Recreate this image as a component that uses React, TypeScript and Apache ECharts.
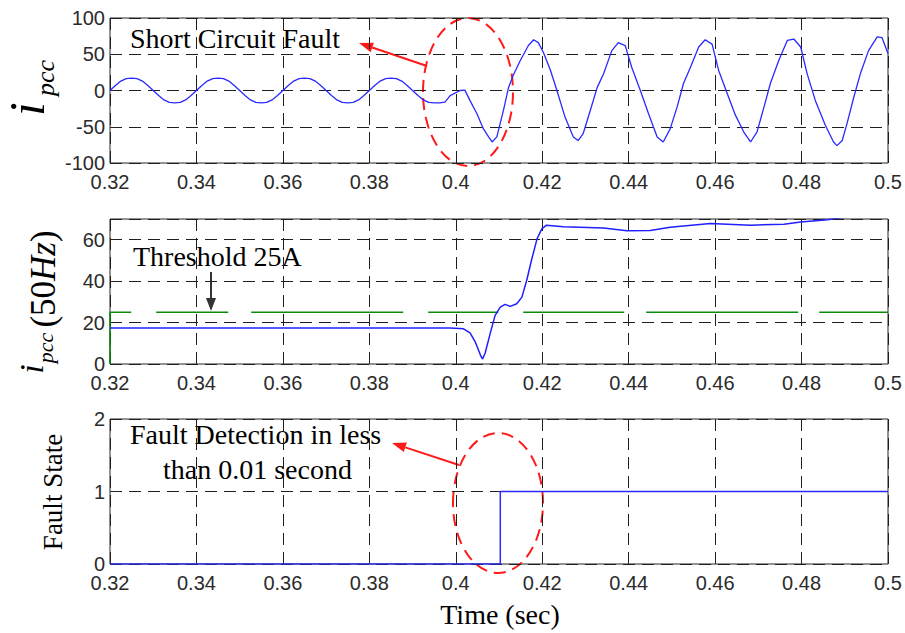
import React, { useEffect, useRef } from 'react';
import * as echarts from 'echarts';

// ---------- data ----------
const xTickMin = 0.32;
const xTickMax = 0.5;
const xTickStep = 0.02;

// panel 1: i_pcc (A)
const ipccPreFault: [number, number][] = [
  [0.32, 0], [0.32125, 7], [0.3225, 13], [0.32375, 16.5], [0.325, 17], [0.32625, 16.5], [0.3275, 13], [0.32875, 7],
  [0.33, 0], [0.33125, -7], [0.3325, -13], [0.33375, -16.5], [0.335, -17], [0.33625, -16.5], [0.3375, -13], [0.33875, -7],
  [0.34, 0], [0.34125, 7], [0.3425, 13], [0.34375, 16.5], [0.345, 17], [0.34625, 16.5], [0.3475, 13], [0.34875, 7],
  [0.35, 0], [0.35125, -7], [0.3525, -13], [0.35375, -16.5], [0.355, -17], [0.35625, -16.5], [0.3575, -13], [0.35875, -7],
  [0.36, 0], [0.36125, 7], [0.3625, 13], [0.36375, 16.5], [0.365, 17], [0.36625, 16.5], [0.3675, 13], [0.36875, 7],
  [0.37, 0], [0.37125, -7], [0.3725, -13], [0.37375, -16.5], [0.375, -17], [0.37625, -16.5], [0.3775, -13], [0.37875, -7],
  [0.38, 0], [0.38125, 7], [0.3825, 13], [0.38375, 16.5], [0.385, 17], [0.38625, 16.5], [0.3875, 13], [0.38875, 7],
  [0.39, 0], [0.39125, -7], [0.3925, -13], [0.39375, -16.5], [0.395, -17], [0.39625, -17], [0.3975, -16], [0.3987, -7],
];
const ipccPostFault: [number, number][] = [
  [0.401, 0], [0.4021, 0.5], [0.4033, -14], [0.4049, -32], [0.4064, -53], [0.4076, -64], [0.4084, -71], [0.4095, -64],
  [0.411, -28], [0.4122, 4], [0.4133, 21], [0.4149, 41], [0.4168, 62], [0.418, 70], [0.4191, 66], [0.4203, 52],
  [0.4219, 28], [0.4234, 0], [0.4253, -37], [0.4272, -64], [0.4283, -69], [0.4295, -59], [0.4311, -28], [0.4327, 4],
  [0.4342, 23], [0.4361, 55], [0.4376, 66], [0.4392, 62], [0.4407, 32], [0.4427, 0], [0.4446, -32], [0.4466, -64],
  [0.448, -71], [0.4496, -53], [0.4512, -23], [0.4527, 10], [0.4543, 32], [0.4562, 60], [0.4577, 70], [0.4593, 64],
  [0.4608, 28], [0.4628, -4], [0.4647, -34], [0.4666, -57], [0.4682, -71], [0.4697, -57], [0.4713, -23], [0.4728, 10],
  [0.4747, 41], [0.4767, 69], [0.4782, 71], [0.4798, 60], [0.4813, 23], [0.4832, -14], [0.4855, -48], [0.4874, -71],
  [0.4882, -76], [0.4894, -69], [0.4905, -46], [0.4921, -9], [0.4936, 23], [0.4955, 55], [0.4975, 74], [0.4986, 73],
  [0.5, 51],
];

// panel 2: i_pcc (50Hz) magnitude and threshold
const ipcc50Hz: [number, number][] = [
  [0.32, 17.4], [0.3987, 17.4], [0.4018, 17], [0.4033, 15], [0.4045, 10.7], [0.4057, 4.3], [0.4062, 2.4], [0.4068, 5.3],
  [0.408, 15], [0.4091, 23.5], [0.4103, 27.5], [0.4114, 28.8], [0.4126, 27.8], [0.4141, 29.1], [0.4153, 32.3], [0.4164, 40.3],
  [0.4176, 50.8], [0.4188, 60.4], [0.4199, 65.2], [0.421, 67], [0.4249, 66.3], [0.4342, 65.7], [0.4396, 64.3], [0.445, 64.5],
  [0.4496, 66], [0.4589, 67.8], [0.4682, 67], [0.4759, 67.5], [0.4798, 68.6], [0.4860, 69.6], [0.4878, 70.2], [0.49, 70.8],
  [0.5, 72],
];
const threshold: [number, number][] = [[0.32, 0], [0.32, 25], [0.5, 25]];

// panel 3: fault state
const faultState: [number, number][] = [[0.32, 0], [0.4103, 0], [0.4103, 1], [0.5, 1]];

// y-axis ranges / ticks
const y1 = { min: -100, max: 100, step: 50 };
const y2 = { min: 0, max: 70, step: 20 };
const y3 = { min: 0, max: 2, step: 1 };

// ---------- styling ----------
const SERIF = '"Liberation Serif", "Times New Roman", serif';
const SANS = '"Liberation Sans", Arial, sans-serif';
const GRID_LEFT = 110;
const GRID_W = 778;
const GRID_H = 145;
const GRID_TOPS = [18, 219, 419];
const TICK_COLOR = '#2b2b2b';
const DASH_GRID = [12, 7];

function arrow(tail: number[], tip: number[], color: string, width: number, headLen: number, headHalf: number) {
  const dx = tip[0] - tail[0];
  const dy = tip[1] - tail[1];
  const L = Math.hypot(dx, dy);
  const ux = dx / L, uy = dy / L;
  const bx = tip[0] - ux * headLen, by = tip[1] - uy * headLen;
  const nx = -uy, ny = ux;
  return [
    { type: 'line', silent: true, shape: { x1: tail[0], y1: tail[1], x2: bx, y2: by }, style: { stroke: color, lineWidth: width } },
    {
      type: 'polygon', silent: true,
      shape: { points: [[tip[0], tip[1]], [bx + nx * headHalf, by + ny * headHalf], [bx - nx * headHalf, by - ny * headHalf]] },
      style: { fill: color },
    },
  ];
}

function txt(x: number, y: number, text: string, fontSize: number, opts: any = {}) {
  return {
    type: 'text', silent: true, x, y, rotation: opts.rotation || 0,
    style: {
      text, fontSize, fontFamily: SERIF, fontStyle: opts.italic ? 'italic' : 'normal',
      fill: '#000', align: opts.align || 'left', textAlign: opts.align || 'left',
      verticalAlign: 'middle', textVerticalAlign: 'middle', rich: opts.rich,
    },
  };
}

export default function App() {
  const ref = useRef<HTMLDivElement>(null);
  useEffect(() => {
    if (!ref.current) return;
    const chart = echarts.init(ref.current, undefined, { renderer: 'svg' });

    const grids = GRID_TOPS.map((top) => ({
      left: GRID_LEFT, top, width: GRID_W, height: GRID_H,
      show: true, borderColor: '#262626', borderWidth: 1, backgroundColor: '#fff',
    }));

    const xAxes = GRID_TOPS.map((_, i) => ({
      type: 'value', gridIndex: i, min: xTickMin, max: xTickMax, interval: xTickStep,
      axisLine: { show: false },
      axisTick: { show: true, inside: true, length: 5, lineStyle: { color: '#262626' } },
      axisLabel: {
        color: TICK_COLOR, fontFamily: SANS, fontSize: 20, lineHeight: 14, margin: 12,
        formatter: (v: number) => String(Math.round(v * 100) / 100),
      },
      splitLine: { show: true, lineStyle: { color: '#1e1e1e', width: 1, type: DASH_GRID } },
    }));

    const yDefs = [y1, y2, y3];
    const yAxes = yDefs.map((d, i) => ({
      type: 'value', gridIndex: i, min: d.min, max: d.max, interval: d.step,
      axisLine: { show: false },
      axisTick: { show: true, inside: true, length: 5, lineStyle: { color: '#262626' } },
      axisLabel: {
        color: TICK_COLOR, fontFamily: SANS, fontSize: 20, lineHeight: 14, margin: 5, padding: [0, 0, 2, 0],
        showMaxLabel: i !== 1,
      },
      splitLine: { show: true, lineStyle: { color: '#1e1e1e', width: 1, type: DASH_GRID } },
    }));

    const graphics: any[] = [
      // y-axis titles (rotated)
      txt(27, 109, 'i', 50, { italic: true, rotation: Math.PI / 2, align: 'center' }),
      txt(45, 78, 'pcc', 26, { italic: true, rotation: Math.PI / 2, align: 'center' }),
      txt(31, 369, 'i', 34, { italic: true, rotation: Math.PI / 2, align: 'center' }),
      txt(45, 348, 'pcc', 22, { italic: true, rotation: Math.PI / 2, align: 'center' }),
      txt(43, 279, '{n|(50}{h|Hz}{n|)}', 35, {
        rotation: Math.PI / 2, align: 'center',
        rich: {
          n: { fontFamily: SERIF, fontSize: 35, fill: '#000' },
          h: { fontFamily: SERIF, fontSize: 35, fontStyle: 'italic', fill: '#000' },
        },
      }),
      txt(53, 492, 'Fault State', 27, { rotation: Math.PI / 2, align: 'center' }),
      // x-axis title
      txt(500, 614, 'Time (sec)', 28, { align: 'center' }),
      // annotations
      txt(130, 38, 'Short Circuit Fault', 28),
      txt(133, 256, 'Threshold 25A', 28),
      txt(130, 434, 'Fault Detection in less', 28),
      txt(163, 469, 'than 0.01 second', 28),
      ...arrow([427, 66], [359, 43], '#ff1a1a', 2, 14, 5),
      ...arrow([211, 272], [211, 311], '#333', 2, 13, 5),
      ...arrow([459, 465], [392, 443], '#ff1a1a', 2, 14, 5),
      {
        type: 'ellipse', silent: true, shape: { cx: 468, cy: 92, rx: 45, ry: 74 },
        style: { fill: 'none', stroke: '#ff1a1a', lineWidth: 2, lineDash: [12, 7] },
      },
      {
        type: 'ellipse', silent: true, shape: { cx: 498, cy: 503, rx: 45, ry: 70 },
        style: { fill: 'none', stroke: '#ff1a1a', lineWidth: 2, lineDash: [12, 7] },
      },
    ];

    chart.setOption({
      animation: false,
      backgroundColor: '#fff',
      grid: grids,
      xAxis: xAxes,
      yAxis: yAxes,
      series: [
        {
          type: 'line', xAxisIndex: 0, yAxisIndex: 0, showSymbol: false, symbol: 'none',
          data: [...ipccPreFault, ...ipccPostFault],
          lineStyle: { color: '#2a2aff', width: 1.3 },
        },
        {
          type: 'line', xAxisIndex: 1, yAxisIndex: 1, showSymbol: false, symbol: 'none',
          data: threshold,
          lineStyle: { color: '#0a8a0a', width: 1.5, type: [73, 25, 72, 23, 152, 25, 70, 25, 101, 22, 152, 21, 80, 10] },
        },
        {
          type: 'line', xAxisIndex: 1, yAxisIndex: 1, showSymbol: false, symbol: 'none',
          data: ipcc50Hz,
          lineStyle: { color: '#1f1fff', width: 1.5 },
        },
        {
          type: 'line', xAxisIndex: 2, yAxisIndex: 2, showSymbol: false, symbol: 'none',
          data: faultState,
          lineStyle: { color: '#2a2aff', width: 1.5 },
        },
      ],
      graphic: { elements: graphics },
    });

    return () => chart.dispose();
  }, []);

  return (
    <div
      ref={ref}
      style={{ position: 'fixed', left: 0, top: 0, width: 905, height: 633, background: '#fff' }}
    />
  );
}
